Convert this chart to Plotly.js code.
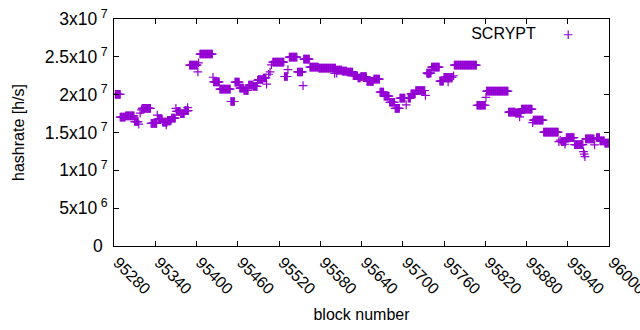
<!DOCTYPE html>
<html>
<head>
<meta charset="utf-8">
<script src="https://cdn.plot.ly/plotly-3.0.1.min.js"></script>
<style>html,body{margin:0;padding:0;background:#fff;}#chart{width:640px;height:330px;}</style>
</head>
<body>
<div id="chart"></div>
<script>
// Runs of consecutive blocks sharing the same hashrate
const runStart = [95282,95289,95297,95310,95321,95334,95344,95351,95358,95364,95371,95377,95383,95390,95405,95425,95434,95450,95456,95463,95469,95476,95483,95490,95497,95511,95528,95535,95547,95556,95565,95578,95603,95612,95619,95628,95635,95639,95648,95658,95667,95673,95681,95689,95696,95708,95712,95719,95735,95742,95754,95760,95775,95808,95822,95854,95864,95873,95890,95905,95931,95938,95950,95966,95982,95987,95994];
const runEnd   = [95289,95296,95309,95315,95333,95342,95350,95357,95363,95369,95376,95382,95388,95401,95423,95433,95449,95455,95462,95468,95475,95482,95488,95496,95501,95527,95532,95546,95554,95564,95577,95602,95611,95618,95627,95634,95638,95647,95657,95666,95672,95680,95688,95695,95703,95711,95718,95732,95741,95753,95759,95772,95807,95820,95853,95863,95872,95888,95904,95926,95937,95949,95962,95978,95986,95993,96000];
const runValue = [2.005e7,1.703e7,1.72e7,1.645e7,1.82e7,1.62e7,1.68e7,1.637e7,1.66e7,1.69e7,1.78e7,1.75e7,1.79e7,2.39e7,2.537e7,2.17e7,2.073e7,1.91e7,2.166e7,2.087e7,2.055e7,2.126e7,2.11e7,2.20e7,2.22e7,2.43e7,2.24e7,2.497e7,2.30e7,2.47e7,2.365e7,2.35e7,2.325e7,2.31e7,2.30e7,2.25e7,2.22e7,2.24e7,2.175e7,2.205e7,2.034e7,1.98e7,1.90e7,1.82e7,1.955e7,1.955e7,2.01e7,2.055e7,2.285e7,2.365e7,2.18e7,2.23e7,2.39e7,1.86e7,2.046e7,1.77e7,1.76e7,1.81e7,1.663e7,1.504e7,1.38e7,1.433e7,1.34e7,1.416e7,1.433e7,1.39e7,1.36e7];

// Isolated blocks (single crosses)
const singleBlock = [95316,95318,95320,95343,95356,95370,95387,95402,95403,95424,95489,95502,95505,95507,95509,95533,95555,95601,95604,95705,95733,95737,95766,95774,95821,95870,95889,95927,95929,95936,95963,95964,95965,95979];
const singleValue = [1.61e7,1.755e7,1.80e7,1.73e7,1.60e7,1.82e7,1.83e7,2.30e7,2.42e7,2.23e7,2.19e7,2.14e7,2.27e7,2.30e7,2.395e7,2.33e7,2.12e7,2.28e7,2.285e7,1.866e7,1.99e7,2.275e7,2.17e7,2.25e7,1.965e7,1.707e7,1.63e7,1.38e7,1.40e7,1.345e7,1.248e7,1.213e7,1.18e7,1.336e7];

const xTicks = [95280,95340,95400,95460,95520,95580,95640,95700,95760,95820,95880,95940,96000];
const yTicks = [0,5e6,1e7,1.5e7,2e7,2.5e7,3e7];
const yTickText = ['0\u00a0','5x10<sup> 6</sup>','1x10<sup> 7</sup>','1.5x10<sup> 7</sup>','2x10<sup> 7</sup>','2.5x10<sup> 7</sup>','3x10<sup> 7</sup>'];
const seriesName = 'SCRYPT';

const xs = [], ys = [];
for (let i = 0; i < runStart.length; i++) {
  for (let b = runStart[i]; b <= runEnd[i]; b++) { xs.push(b); ys.push(runValue[i]); }
}
for (let i = 0; i < singleBlock.length; i++) { xs.push(singleBlock[i]); ys.push(singleValue[i]); }

const color = '#9400d3';
const font = {family: 'Liberation Sans, Arial, sans-serif', size: 16, color: '#000'};
const yTickFont = {family: 'Liberation Sans, Arial, sans-serif', size: 17.5, color: '#000'};

const trace = {
  x: xs, y: ys, type: 'scatter', mode: 'markers', name: '',
  marker: {symbol: 'cross-thin-open', size: 6.2, color: color, line: {color: color, width: 1.2}},
  showlegend: true
};

const axisCommon = {
  showline: true, linecolor: '#000', linewidth: 1, mirror: 'ticks',
  ticks: 'inside', ticklen: 5, tickcolor: '#000', tickwidth: 1,
  showgrid: false, zeroline: false, tickfont: font, ticklabeloverflow: 'allow'
};

const layout = {
  width: 640, height: 330,
  margin: {l: 114, r: 31, t: 19, b: 84},
  paper_bgcolor: '#fff', plot_bgcolor: '#fff',
  font: font,
  xaxis: Object.assign({}, axisCommon, {
    range: [95280, 96000], tickmode: 'array', tickvals: xTicks,
    ticktext: xTicks.map(String), tickangle: 45, ticklabelshift: 4,
    title: {text: 'block number', font: font, standoff: 12}
  }),
  yaxis: Object.assign({}, axisCommon, {
    range: [0, 3e7], tickmode: 'array', tickvals: yTicks, ticktext: yTickText,
    tickfont: yTickFont, ticklabelstandoff: 2,
    title: {text: 'hashrate [h/s]', font: font, standoff: 16}
  }),
  showlegend: true,
  legend: {
    x: 0.97, y: 1.005, xanchor: 'right', yanchor: 'top',
    bgcolor: 'rgba(0,0,0,0)', borderwidth: 0, font: font,
    title: {text: seriesName + '\u00a0', side: 'left', font: font}
  }
};

Plotly.newPlot('chart', [trace], layout, {staticPlot: true, displayModeBar: false});
</script>
</body>
</html>
